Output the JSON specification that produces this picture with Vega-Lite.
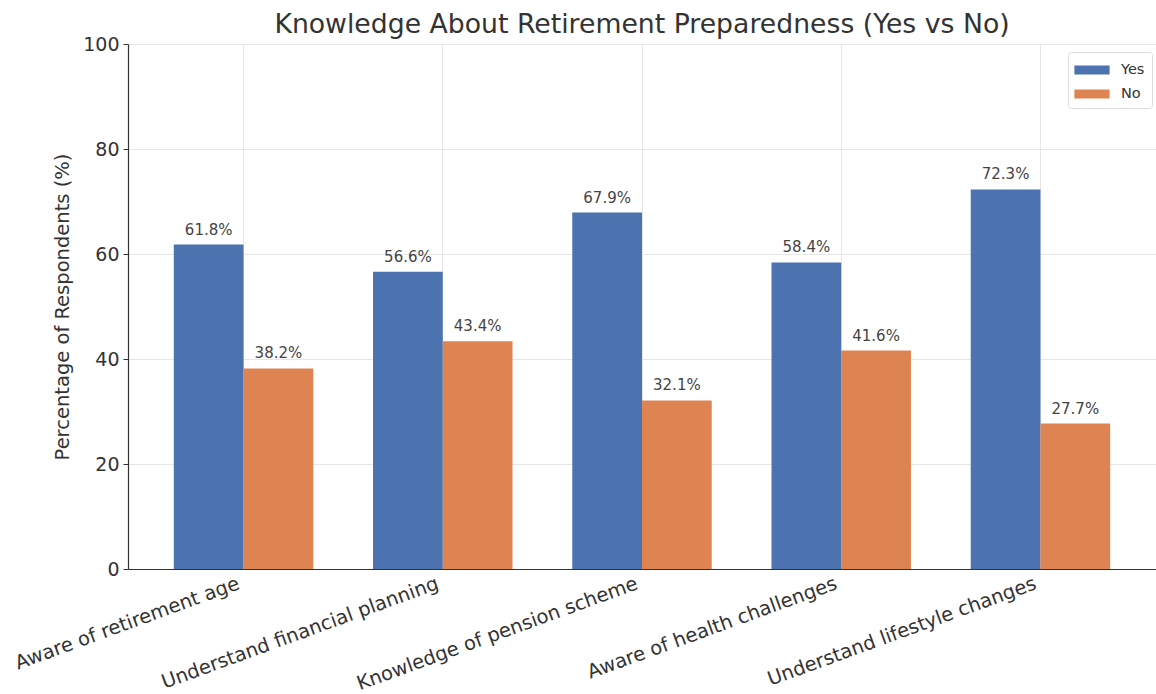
{
  "$schema": "https://vega.github.io/schema/vega-lite/v6.json",
  "autosize": "none",
  "width": 1028,
  "height": 525,
  "padding": {"left": 128, "top": 44, "right": 0, "bottom": 125},
  "background": "white",
  "config": {
    "view": {"stroke": null},
    "font": "DejaVu Sans"
  },
  "title": {
    "text": "Knowledge About Retirement Preparedness (Yes vs No)",
    "fontSize": 26.7,
    "fontWeight": "normal",
    "color": "#333333",
    "font": "DejaVu Sans",
    "offset": 6,
    "dy": 10,
    "anchor": "middle"
  },
  "data": {
    "values": [
      {"item": "Aware of retirement age", "answer": "Yes", "value": 61.8},
      {"item": "Aware of retirement age", "answer": "No", "value": 38.2},
      {"item": "Understand financial planning", "answer": "Yes", "value": 56.6},
      {"item": "Understand financial planning", "answer": "No", "value": 43.4},
      {"item": "Knowledge of pension scheme", "answer": "Yes", "value": 67.9},
      {"item": "Knowledge of pension scheme", "answer": "No", "value": 32.1},
      {"item": "Aware of health challenges", "answer": "Yes", "value": 58.4},
      {"item": "Aware of health challenges", "answer": "No", "value": 41.6},
      {"item": "Understand lifestyle changes", "answer": "Yes", "value": 72.3},
      {"item": "Understand lifestyle changes", "answer": "No", "value": 27.7}
    ]
  },
  "transform": [
    {"calculate": "format(datum.value, '.1f') + '%'", "as": "label"}
  ],
  "encoding": {
    "x": {
      "field": "item",
      "type": "nominal",
      "sort": null,
      "scale": {"paddingInner": 0.3, "paddingOuter": 0.23},
      "axis": {
        "title": null,
        "labelAngle": -20,
        "labelAlign": "right",
        "labelBaseline": "top",
        "labelOffset": -8,
        "labelPadding": 5,
        "labelFontSize": 19.5,
        "labelLimit": 0,
        "labelColor": "#333333",
        "ticks": false,
        "bandPosition": 0.5,
        "grid": true,
        "gridColor": "#e6e6e6",
        "domainColor": "#333333",
        "domainWidth": 1.2
      }
    },
    "xOffset": {
      "field": "answer",
      "type": "nominal",
      "sort": ["Yes", "No"],
      "scale": {"paddingInner": 0, "paddingOuter": 0}
    },
    "y": {
      "field": "value",
      "type": "quantitative",
      "scale": {"domain": [0, 100], "nice": false},
      "axis": {
        "title": "Percentage of Respondents (%)",
        "titleFontSize": 19.5,
        "titleFontWeight": "normal",
        "titleColor": "#333333",
        "titlePadding": 10,
        "values": [0, 20, 40, 60, 80, 100],
        "labelFontSize": 19,
        "labelColor": "#333333",
        "tickColor": "#333333",
        "tickSize": 5,
        "labelPadding": 4,
        "gridColor": "#e6e6e6",
        "domainColor": "#333333",
        "domainWidth": 1.2
      }
    }
  },
  "layer": [
    {
      "mark": {"type": "bar"},
      "encoding": {
        "color": {
          "field": "answer",
          "type": "nominal",
          "sort": ["Yes", "No"],
          "scale": {"domain": ["Yes", "No"], "range": ["#4C72B0", "#DD8452"]},
          "legend": {
            "title": null,
            "orient": "none",
            "legendX": 940,
            "legendY": 8,
            "symbolType": "M-1.6,-0.4H1.6V0.4H-1.6Z",
            "symbolSize": 484,
            "symbolStrokeWidth": 0,
            "symbolOffset": 6,
            "labelOffset": 18,
            "labelFontSize": 14.5,
            "labelColor": "#333333",
            "strokeColor": "#dddddd",
            "fillColor": "white",
            "cornerRadius": 3,
            "padding": 7,
            "rowPadding": 6
          }
        }
      }
    },
    {
      "mark": {"type": "text", "baseline": "bottom", "dy": -7, "fontSize": 15, "color": "#444444"},
      "encoding": {
        "text": {"field": "label"}
      }
    }
  ]
}
